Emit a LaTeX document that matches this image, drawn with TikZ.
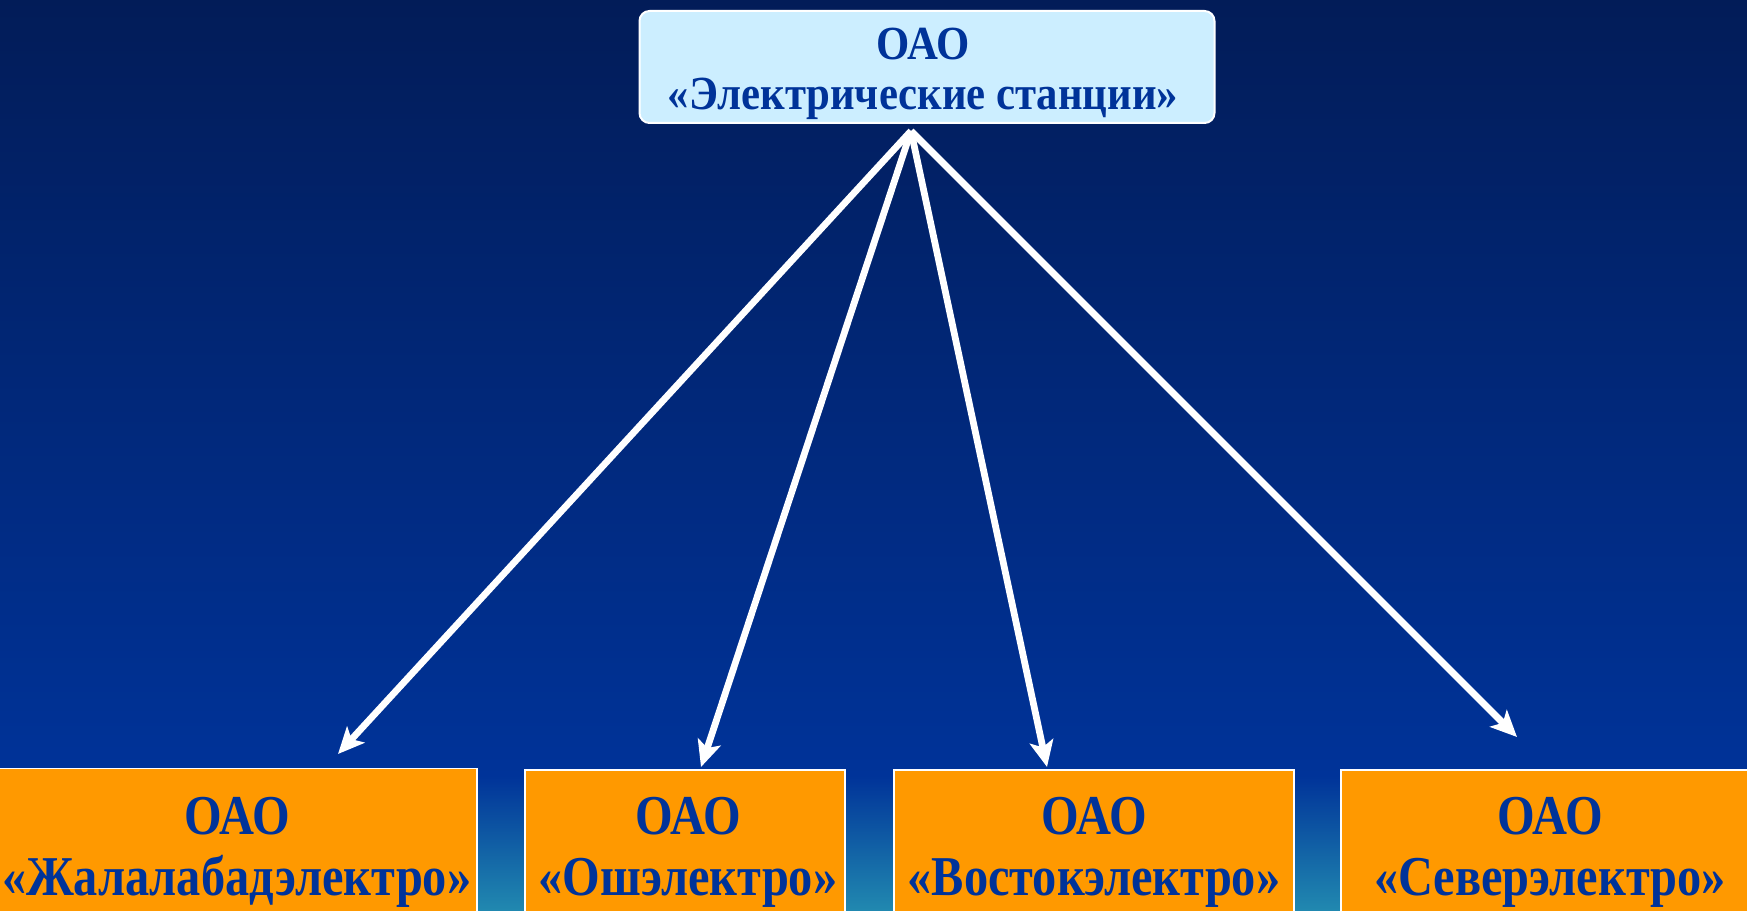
\documentclass[tikz,border=0pt]{standalone}
\usepackage{fontspec}
\setmainfont{Liberation Serif}
\newfontfamily\topfont{Liberation Serif}[FakeStretch=0.9]
\newfontfamily\subfont{Liberation Serif}[FakeStretch=0.86]
\usetikzlibrary{arrows.meta}
\definecolor{bgtop}{HTML}{021C58}
\definecolor{bgmid}{HTML}{003399}
\definecolor{bgteal}{HTML}{2189B0}
\definecolor{topfill}{HTML}{CCEEFF}
\definecolor{boxorange}{HTML}{FF9900}
\definecolor{txtblue}{HTML}{003399}
\begin{document}
\begin{tikzpicture}[x=0.4pt,y=0.4pt,
  topbox/.style={draw=white, line width=0.8pt, fill=topfill, rounded corners=4pt,
    minimum width=230pt, minimum height=44.8pt, inner sep=0pt},
  subbox/.style={draw=white, line width=0.7pt, fill=boxorange, inner sep=0pt,
    minimum height=60pt},
  toptext/.style={inner sep=0pt, align=center, text=txtblue,
    font=\topfont\fontsize{19}{20}\selectfont\bfseries},
  subtext/.style={inner sep=0pt, align=center, text=txtblue,
    font=\subfont\fontsize{22.5}{24.5}\selectfont\bfseries},
  conn/.style={draw=white, line width=2.7pt,
    -{Stealth[length=10.5pt, width=9.5pt, inset=2.5pt]}}]
\useasboundingbox (0,0) rectangle (1747,-911);
\clip (0,0) rectangle (1747,-911);
\shade[top color=bgtop, bottom color=bgmid] (0,0) rectangle (1747,-776);
\shade[top color=bgmid, bottom color=bgteal] (0,-776) rectangle (1747,-911);

\node[topbox] (root) at (927,-67) {};
\node[toptext] (roott) at (923,-74) {ОАО\\«Электрические станции»};

\node[subbox, minimum width=192.8pt] (b1) at (236,-843.5) {};
\node[subbox, minimum width=128pt] (b2) at (685,-845) {};
\node[subbox, minimum width=160pt] (b3) at (1094,-845) {};
\node[subbox, minimum width=164.4pt] (b4) at (1546.5,-845) {};

\node[subtext] (t1) at (237,-852) {ОАО\\«Жалалабадэлектро»};
\node[subtext] (t2) at (688,-852) {ОАО\\«Ошэлектро»};
\node[subtext] (t3) at (1094,-852) {ОАО\\«Востокэлектро»};
\node[subtext] (t4) at (1550,-852) {ОАО\\«Северэлектро»};

\coordinate (src) at (911,-131);
\coordinate (e1) at (338,-754);
\coordinate (e2) at (701,-767);
\coordinate (e3) at (1047,-767);
\coordinate (e4) at (1517,-737);

\draw[conn] (src) -- (e1);
\draw[conn] (src) -- (e2);
\draw[conn] (src) -- (e3);
\draw[conn] (src) -- (e4);
\end{tikzpicture}
\end{document}
